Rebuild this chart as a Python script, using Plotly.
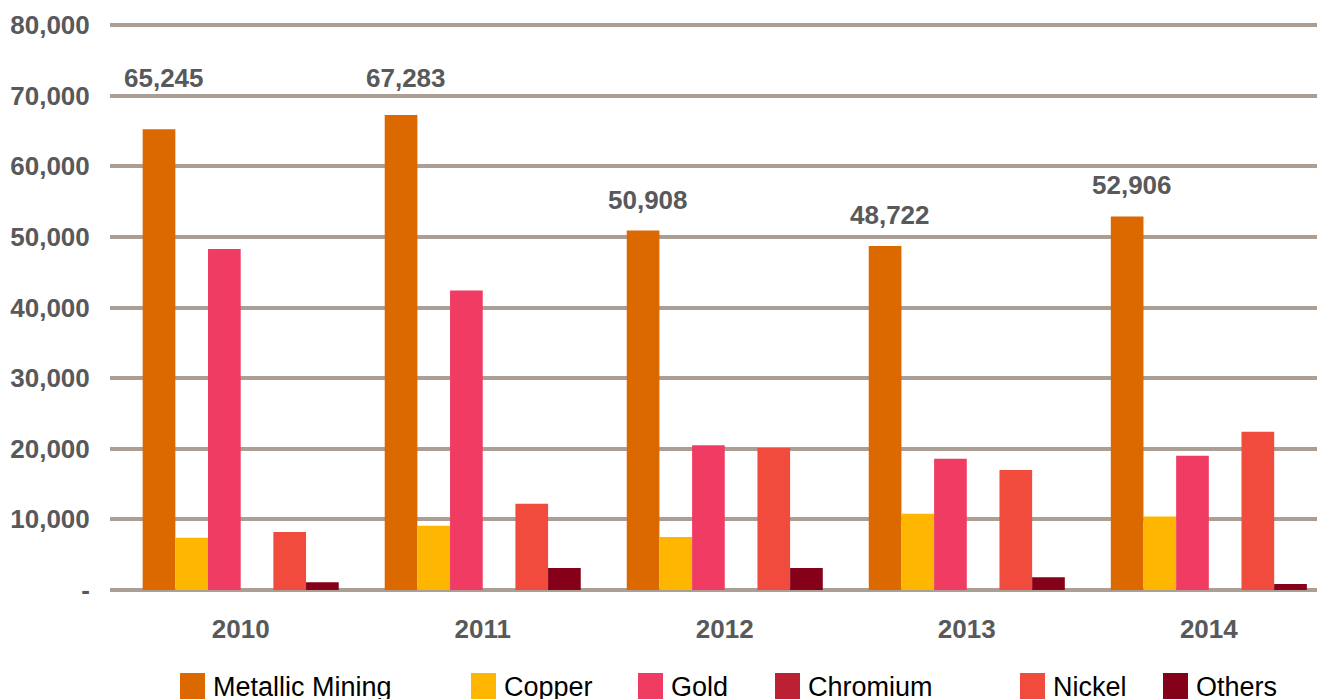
import plotly.graph_objs as go

years = ["2010", "2011", "2012", "2013", "2014"]
series_names = ["Metallic Mining", "Copper", "Gold", "Chromium", "Nickel", "Others"]
metallic_mining = [65245, 67283, 50908, 48722, 52906]
copper = [7400, 9100, 7500, 10800, 10400]
gold = [48300, 42400, 20500, 18600, 19000]
chromium = [0, 0, 0, 0, 0]
nickel = [8200, 12200, 20100, 17000, 22400]
others = [1100, 3100, 3100, 1800, 850]
y_tickvals = [0, 10000, 20000, 30000, 40000, 50000, 60000, 70000, 80000]
y_ticktext = ["-", "10,000", "20,000", "30,000", "40,000", "50,000", "60,000", "70,000", "80,000"]

colors = ["#dc6900", "#ffb600", "#f03c62", "#bb2133", "#f14b3e", "#850019"]
values = [metallic_mining, copper, gold, chromium, nickel, others]

GREY = "#58595b"
GRID = "#aa9e95"
FONT = "Liberation Sans"

# the page body has an 8px margin, so the figure is sized to fill the rest
PAGE_OFF = 8
FIG_W, FIG_H = 1325 - PAGE_OFF, 699 - PAGE_OFF

fig = go.Figure()
for name, vals, color in zip(series_names, values, colors):
    fig.add_trace(go.Bar(x=years, y=vals, name=name, marker=dict(color=color, line=dict(width=0))))

# data labels on the Metallic Mining bars; the first two sit higher, clear of the 70,000 line
label_yshift = [34, 20, 14, 14, 14]
for i, (v, ys) in enumerate(zip(metallic_mining, label_yshift)):
    fig.add_annotation(
        x=i, y=v, xref="x", yref="y", text=f"{v:,}", showarrow=False,
        yanchor="bottom", yshift=ys, xshift=-77,
        font=dict(family=FONT, size=26, color=GREY, weight="bold"),
    )

# custom legend with large square swatches (page pixel positions)
legend_px = [180, 471, 638, 775, 1020, 1163]
plot_left, plot_w = 110, 1215
plot_bottom, plot_h = 590, 567
for name, color, px in zip(series_names, colors, legend_px):
    fig.add_shape(
        type="rect", xref="paper", yref="paper",
        x0=(px - plot_left) / plot_w, x1=(px + 25 - plot_left) / plot_w,
        y0=(plot_bottom - 705) / plot_h, y1=(plot_bottom - 673) / plot_h,
        fillcolor=color, line=dict(width=0),
    )
    fig.add_annotation(
        x=(px + 31 - plot_left) / plot_w, y=(plot_bottom - 687) / plot_h,
        xref="paper", yref="paper", xanchor="left", yanchor="middle",
        text=name, showarrow=False,
        font=dict(family=FONT, size=27, color="black"),
    )

fig.update_layout(
    barmode="group",
    bargap=0.19,
    bargroupgap=0,
    width=FIG_W,
    height=FIG_H,
    margin=dict(l=plot_left - PAGE_OFF, r=0, t=23 - PAGE_OFF, b=699 - plot_bottom),
    plot_bgcolor="white",
    paper_bgcolor="white",
    showlegend=False,
    font=dict(family=FONT, size=26, color=GREY),
    xaxis=dict(
        type="category",
        range=[-0.54, 4.48],
        showgrid=False,
        showline=False,
        zeroline=False,
        ticks="outside",
        ticklen=16,
        tickcolor="rgba(0,0,0,0)",
        tickfont=dict(family=FONT, size=26, color=GREY, weight="bold"),
    ),
    yaxis=dict(
        range=[0, 80300],
        tickvals=y_tickvals,
        ticktext=y_ticktext,
        showgrid=True,
        gridcolor=GRID,
        gridwidth=4,
        zeroline=True,
        zerolinecolor=GRID,
        zerolinewidth=4,
        showline=False,
        ticks="outside",
        ticklen=14,
        tickcolor="rgba(0,0,0,0)",
        tickfont=dict(family=FONT, size=26, color=GREY, weight="bold"),
    ),
)

fig.write_html("out.html")
